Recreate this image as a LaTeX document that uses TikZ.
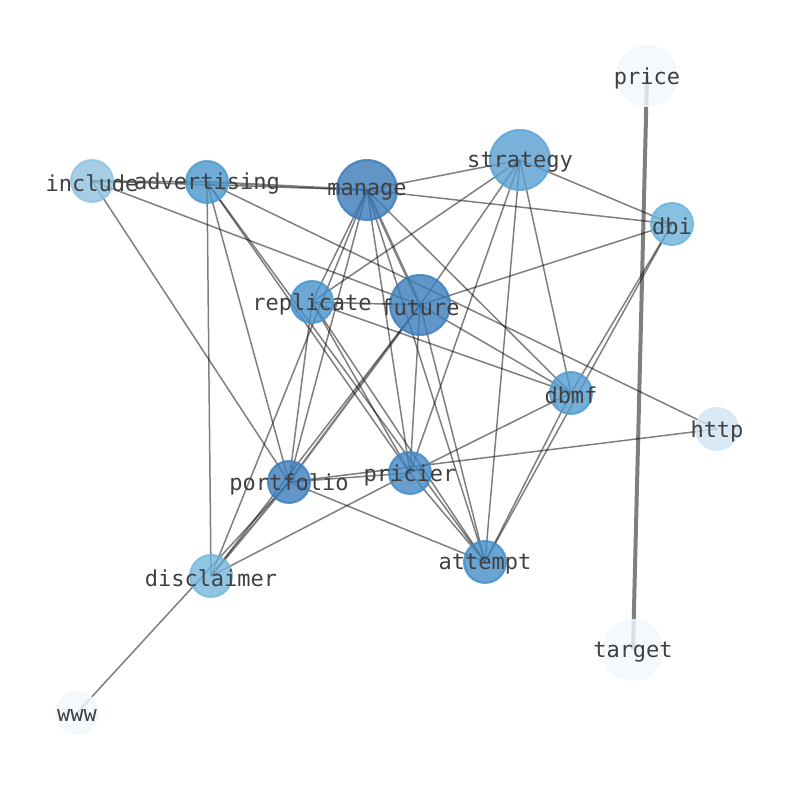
\documentclass[tikz,border=0pt]{standalone}
\usepackage{fontspec}
\newfontfamily\monolab{DejaVu Sans Mono}
\begin{document}
\begin{tikzpicture}[x=0.5pt,y=-0.5pt,
  edge/.style={draw=black,draw opacity=0.5,line width=0.75pt},
  vtx/.style={circle,inner sep=0pt,fill opacity=0.8,draw opacity=0.8,line width=1pt},
  big/.style={vtx,minimum size=30pt},
  small/.style={vtx,minimum size=21pt},
  lbl/.style={font=\monolab\fontsize{11pt}{11pt}\selectfont,text=black!75,inner sep=0pt,yshift=-1pt}]
\definecolor{cmanage}{HTML}{387BB8}
\definecolor{cfuture}{HTML}{3A7DBA}
\definecolor{cportfolio}{HTML}{3B7EBC}
\definecolor{cpricier}{HTML}{4188C4}
\definecolor{cattempt}{HTML}{438DC7}
\definecolor{creplicate}{HTML}{4692CB}
\definecolor{cadvertising}{HTML}{4A97CD}
\definecolor{cdbmf}{HTML}{519BD0}
\definecolor{cstrategy}{HTML}{58A0D2}
\definecolor{cdbi}{HTML}{6AB1DB}
\definecolor{cdisclaimer}{HTML}{74B7DC}
\definecolor{cinclude}{HTML}{8EC2E0}
\definecolor{chttp}{HTML}{D1E4F4}
\definecolor{cpale}{HTML}{F2F7FD}
\useasboundingbox (0,0) rectangle (794,790);
% positions
\coordinate (price) at (647,76);
\coordinate (strategy) at (520,160);
\coordinate (manage) at (367,190);
\coordinate (include) at (92,181);
\coordinate (advertising) at (207,182);
\coordinate (dbi) at (672,224);
\coordinate (replicate) at (312,302);
\coordinate (future) at (420,305);
\coordinate (dbmf) at (571,393);
\coordinate (http) at (717,429);
\coordinate (portfolio) at (289,482);
\coordinate (pricier) at (410,473);
\coordinate (attempt) at (485,562);
\coordinate (disclaimer) at (211,576);
\coordinate (target) at (633,650);
\coordinate (www) at (77,713);
% edges
\draw[edge] (include) -- (advertising);
\draw[edge] (include) -- (manage);
\draw[edge] (include) -- (future);
\draw[edge] (include) -- (portfolio);
\draw[edge,line width=1.1pt] (advertising) -- (manage);
\draw[edge] (advertising) -- (disclaimer);
\draw[edge] (advertising) -- (portfolio);
\draw[edge] (advertising) -- (pricier);
\draw[edge] (advertising) -- (attempt);
\draw[edge] (advertising) -- (http);
\draw[edge] (manage) -- (strategy);
\draw[edge] (manage) -- (dbi);
\draw[edge,line width=1.3pt] (manage) -- (future);
\draw[edge] (manage) -- (replicate);
\draw[edge] (manage) -- (portfolio);
\draw[edge] (manage) -- (disclaimer);
\draw[edge] (manage) -- (pricier);
\draw[edge] (manage) -- (attempt);
\draw[edge] (manage) -- (dbmf);
\draw[edge] (strategy) -- (replicate);
\draw[edge] (strategy) -- (future);
\draw[edge] (strategy) -- (pricier);
\draw[edge] (strategy) -- (attempt);
\draw[edge] (strategy) -- (dbmf);
\draw[edge] (strategy) -- (dbi);
\draw[edge] (dbi) -- (future);
\draw[edge] (dbi) -- (dbmf);
\draw[edge] (dbi) -- (attempt);
\draw[edge] (replicate) -- (future);
\draw[edge] (replicate) -- (dbmf);
\draw[edge] (replicate) -- (portfolio);
\draw[edge] (replicate) -- (pricier);
\draw[edge] (replicate) -- (attempt);
\draw[edge] (future) -- (dbmf);
\draw[edge] (future) -- (pricier);
\draw[edge] (future) -- (attempt);
\draw[edge,line width=1.1pt] (future) -- (portfolio);
\draw[edge] (future) -- (disclaimer);
\draw[edge] (dbmf) -- (pricier);
\draw[edge] (dbmf) -- (attempt);
\draw[edge] (portfolio) -- (pricier);
\draw[edge] (portfolio) -- (http);
\draw[edge] (portfolio) -- (attempt);
\draw[edge,line width=1.1pt] (portfolio) -- (disclaimer);
\draw[edge] (portfolio) -- (www);
\draw[edge] (pricier) -- (disclaimer);
\draw[edge] (pricier) -- (attempt);
\draw[edge,line width=2pt] (price) -- (target);
% vertices
\node[big,fill=cpale,draw=cpale] (price-v) at (price) {};
\node[big,fill=cstrategy,draw=cstrategy] (strategy-v) at (strategy) {};
\node[big,fill=cmanage,draw=cmanage] (manage-v) at (manage) {};
\node[small,fill=cinclude,draw=cinclude] (include-v) at (include) {};
\node[small,fill=cadvertising,draw=cadvertising] (advertising-v) at (advertising) {};
\node[small,fill=cdbi,draw=cdbi] (dbi-v) at (dbi) {};
\node[small,fill=creplicate,draw=creplicate] (replicate-v) at (replicate) {};
\node[big,fill=cfuture,draw=cfuture] (future-v) at (future) {};
\node[small,fill=cdbmf,draw=cdbmf] (dbmf-v) at (dbmf) {};
\node[small,fill=chttp,draw=chttp] (http-v) at (http) {};
\node[small,fill=cportfolio,draw=cportfolio] (portfolio-v) at (portfolio) {};
\node[small,fill=cpricier,draw=cpricier] (pricier-v) at (pricier) {};
\node[small,fill=cattempt,draw=cattempt] (attempt-v) at (attempt) {};
\node[small,fill=cdisclaimer,draw=cdisclaimer] (disclaimer-v) at (disclaimer) {};
\node[big,fill=cpale,draw=cpale] (target-v) at (target) {};
\node[small,fill=cpale,draw=cpale] (www-v) at (www) {};
% labels
\node[lbl] (price-l) at (price) {price};
\node[lbl] (strategy-l) at (strategy) {strategy};
\node[lbl] (manage-l) at (manage) {manage};
\node[lbl] (include-l) at (include) {include};
\node[lbl] (advertising-l) at (advertising) {advertising};
\node[lbl] (dbi-l) at (dbi) {dbi};
\node[lbl] (replicate-l) at (replicate) {replicate};
\node[lbl] (future-l) at (future) {future};
\node[lbl] (dbmf-l) at (dbmf) {dbmf};
\node[lbl] (http-l) at (http) {http};
\node[lbl] (portfolio-l) at (portfolio) {portfolio};
\node[lbl] (pricier-l) at (pricier) {pricier};
\node[lbl] (attempt-l) at (attempt) {attempt};
\node[lbl] (disclaimer-l) at (disclaimer) {disclaimer};
\node[lbl] (target-l) at (target) {target};
\node[lbl] (www-l) at (www) {www};
\end{tikzpicture}
\end{document}
